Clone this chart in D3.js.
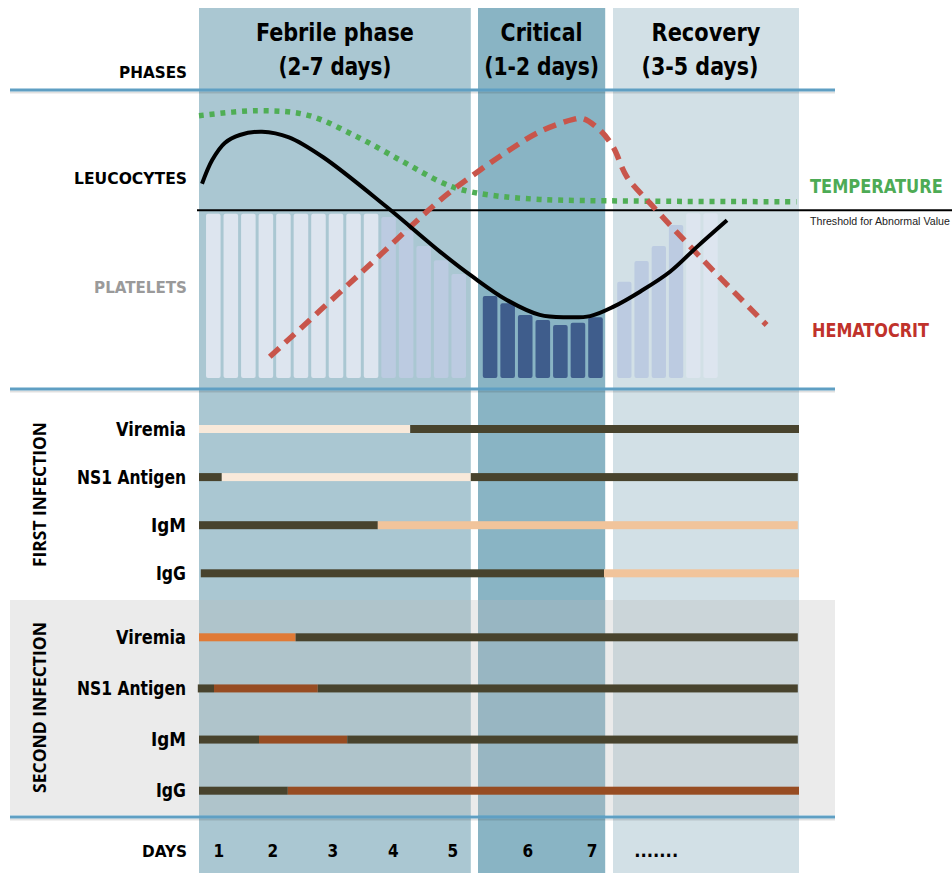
<!DOCTYPE html>
<html>
<head>
<meta charset="utf-8">
<style>
    body { margin: 0; background: #fff; }
    svg { display: block; }
    .lab { font-family: "Liberation Sans Narrow", "DejaVu Sans Condensed", "Open Sans", sans-serif; font-weight: bold; }
    .wide { font-family: "Open Sans", "DejaVu Sans", sans-serif; font-weight: bold; }
    .sep { stroke: #5f9fc3; stroke-width: 3px; }
    .sep-shadow { stroke: rgba(0,0,0,0.12); stroke-width: 2px; }
    path.leuco { fill: none; stroke: #000; stroke-width: 4px; }
    path.temp { fill: none; stroke: #4fae55; stroke-width: 5.5px; stroke-dasharray: 5,5.8; }
    path.hema { fill: none; stroke: #c8554b; stroke-width: 5.5px; stroke-dasharray: 13,8; }
</style>
</head>
<body>
<script src="https://cdn.jsdelivr.net/npm/d3@7"></script>
<script>
    // phases along the timeline (0..100 = whole course of the illness)
    var phaseNames = ['Febrile phase', 'Critical', 'Recovery'];
    var phaseDurations = ['(2-7 days)', '(1-2 days)', '(3-5 days)'];
    var phaseStart = [0, 46.5, 69];
    var phaseEnd = [45.3, 67.7, 100];

    // curves: [time, level]  (level 100 = threshold for abnormal value)
    var leucocytes = [[0.5, 117], [2.2, 131.3], [4.3, 141.6], [6.8, 146.4], [10.5, 148.4],
                      [15, 145], [20.7, 133], [31.3, 103], [40.2, 76], [45.6, 61],
                      [51.3, 47], [56.8, 38], [61.3, 36.6], [65.2, 37.3], [69.1, 43],
                      [73.5, 52], [78.5, 64], [83, 79], [88, 95]];
    var temperature = [[0, 158], [9.6, 161], [18, 158.4], [26.3, 145.4], [34, 130.3],
                       [40.2, 118.2], [43.5, 113.7], [48.5, 110.2], [56.8, 107.6],
                       [72.3, 106.6], [99.6, 106.2]];
    var hematocrit = [[11.8, 12.8], [26.3, 61], [40.2, 107.2], [45.7, 122.3], [51.3, 136.3],
                      [56.8, 148.4], [62.4, 155.8], [64, 156.3], [66.8, 149.4], [69, 139.3],
                      [71.3, 121.3], [75.2, 105.2], [84, 71.1], [94.6, 31.9]];
    var thresholdValue = 101;

    // platelet bars per phase
    var plateletFebrile = [99, 99, 99, 99, 99, 99, 99, 99, 99, 99, 97, 89, 79.5, 71, 62.7];
    var toneFebrile = ['n', 'n', 'n', 'n', 'n', 'n', 'n', 'n', 'n', 'n', 'm', 'm', 'm', 'm', 'm'];
    var plateletCritical = [49.4, 45, 38, 34.9, 31.9, 33.3, 36.6];
    var toneCritical = ['c', 'c', 'c', 'c', 'c', 'c', 'c'];
    var plateletRecovery = [58, 70.5, 79.5, 92.2, 99.2, 99.2];
    var toneRecovery = ['m', 'm', 'm', 'm', 'n', 'n'];

    // tests: segments [from, to, state]
    var testNames = ['Viremia', 'NS1 Antigen', 'IgM', 'IgG'];
    var firstInfection = [
        [[0, 35.2, 'pos'], [35.2, 100, 'neg']],
        [[0, 3.8, 'neg'], [3.8, 45.3, 'pos'], [45.3, 99.8, 'neg']],
        [[0, 29.8, 'neg'], [29.8, 99.8, 'ab']],
        [[0.3, 67.5, 'neg'], [67.5, 100, 'ab']]
    ];
    var secondInfection = [
        [[0, 16.1, 'pos'], [16.1, 99.8, 'neg']],
        [[-0.2, 2.5, 'neg'], [2.5, 19.8, 'ab'], [19.8, 99.8, 'neg']],
        [[0, 10, 'neg'], [10, 24.7, 'ab'], [24.7, 99.8, 'neg']],
        [[0, 14.8, 'neg'], [14.8, 100, 'ab']]
    ];

    var dayLabels = ['1', '2', '3', '4', '5', '6', '7', '.......'];
    var dayTimes = [3.3, 12.3, 22.3, 32.4, 42.3, 54.8, 65.5, 76.2];

    var phaseColor = ['#aac7d2', '#89b4c4', '#d2e0e6'];
    var toneColor = {n: '#dde5ef', m: '#bccbe1', c: '#3f5d8c'};
    var firstColor = {pos: '#f8e9da', neg: '#48432d', ab: '#f1c49b'};
    var secondColor = {pos: '#e07a36', neg: '#48432d', ab: '#974c22'};

    // measured text widths in the original drawing
    var textWidth = {
        'Febrile phase': 158, '(2-7 days)': 113, 'Critical': 82, '(1-2 days)': 115,
        'Recovery': 109, '(3-5 days)': 117,
        'PHASES': 68, 'LEUCOCYTES': 113, 'PLATELETS': 93, 'DAYS': 45,
        'Viremia': 70, 'NS1 Antigen': 109, 'IgM': 35, 'IgG': 30,
        'TEMPERATURE': 133, 'HEMATOCRIT': 117, 'Threshold for Abnormal Value': 140,
        'FIRST INFECTION': 145, 'SECOND INFECTION': 171, '.......': 44
    };
    // squeeze a text horizontally to its measured width
    function fit(sel) {
        sel.each(function() {
            var t = d3.select(this), w = textWidth[t.text()];
            if (!w) return;
            var sx = w / this.getComputedTextLength();
            var x0 = +t.attr('x') || 0, y0 = +t.attr('y') || 0;
            var tr = t.attr('transform') || '';
            t.attr('x', 0).attr('y', 0)
             .attr('transform', 'translate(' + x0 + ',' + y0 + ') ' + tr + ' scale(' + sx + ',1)');
        });
    }

    var W = 952, H = 873;
    var svg = d3.select('body').append('svg')
                .attr('width', W).attr('height', H);

    var x = d3.scaleLinear().domain([0, 100]).range([199, 799]);
    var yv = d3.scaleLinear().domain([0, 100]).range([378, 212]);

    // phase columns
    svg.selectAll('rect.phase')
       .data(phaseNames)
       .enter().append('rect')
       .attr('class', 'phase')
       .attr('x', (d, i) => x(phaseStart[i]))
       .attr('y', 8)
       .attr('width', (d, i) => x(phaseEnd[i]) - x(phaseStart[i]))
       .attr('height', H - 8)
       .attr('fill', (d, i) => phaseColor[i]);

    // grey panel behind second infection
    svg.append('rect')
       .attr('x', 10).attr('y', 600)
       .attr('width', 825).attr('height', 215)
       .attr('fill', '#bdbdbd').attr('opacity', 0.3);

    // platelets
    function barGroup(values, tones, t0, t1) {
        var b = d3.scaleBand().domain(d3.range(values.length))
                  .range([x(t0), x(t1)]).paddingInner(0.17);
        svg.append('g').selectAll('rect')
           .data(values)
           .enter().append('rect')
           .attr('x', (d, i) => b(i))
           .attr('width', b.bandwidth())
           .attr('y', d => yv(d))
           .attr('height', d => yv(0) - yv(d))
           .attr('rx', 2)
           .attr('fill', (d, i) => toneColor[tones[i]]);
    }
    barGroup(plateletFebrile, toneFebrile, 1.17, 44.5);
    barGroup(plateletCritical, toneCritical, 47.3, 67.3);
    barGroup(plateletRecovery, toneRecovery, 69.7, 86.45);

    // threshold
    svg.append('line')
       .attr('x1', 197).attr('x2', W)
       .attr('y1', yv(thresholdValue)).attr('y2', yv(thresholdValue))
       .attr('stroke', '#000').attr('stroke-width', 2);

    var line = d3.line()
                 .x(d => x(d[0]))
                 .y(d => yv(d[1]))
                 .curve(d3.curveCatmullRom.alpha(0.5));

    svg.append('path').datum(temperature).attr('class', 'temp').attr('d', line);
    svg.append('path').datum(hematocrit).attr('class', 'hema').attr('d', line);
    svg.append('path').datum(leucocytes).attr('class', 'leuco').attr('d', line);

    // separators
    [90, 389, 817].forEach(function(y) {
        svg.append('line').attr('class', 'sep-shadow')
           .attr('x1', 10).attr('x2', 835).attr('y1', y + 2.5).attr('y2', y + 2.5);
        svg.append('line').attr('class', 'sep')
           .attr('x1', 10).attr('x2', 835).attr('y1', y).attr('y2', y);
    });

    // infection rows
    function testBlock(rows, colors, y0, y1) {
        var y = d3.scalePoint().domain(testNames).range([y0, y1]);
        var g = svg.append('g');
        rows.forEach(function(segs, r) {
            g.selectAll(null)
             .data(segs)
             .enter().append('rect')
             .attr('x', d => x(d[0]))
             .attr('width', d => x(d[1]) - x(d[0]))
             .attr('y', y(testNames[r]) - 4)
             .attr('height', 8)
             .attr('fill', d => colors[d[2]]);
        });
        g.selectAll('text')
         .data(testNames)
         .enter().append('text')
         .attr('class', 'lab')
         .attr('x', 186)
         .attr('y', d => y(d))
         .attr('dy', '0.35em')
         .attr('text-anchor', 'end')
         .attr('font-size', 19)
         .text(d => d)
         .call(fit);
    }
    testBlock(firstInfection, firstColor, 429, 573.3);
    testBlock(secondInfection, secondColor, 637.3, 790.7);

    // phase titles
    var titles = svg.append('g').attr('class', 'lab').attr('font-size', 25)
                    .attr('text-anchor', 'middle');
    titles.selectAll('text.t1')
          .data(phaseNames)
          .enter().append('text')
          .attr('x', (d, i) => x((phaseStart[i] + phaseEnd[i]) / 2))
          .attr('y', 41)
          .text(d => d)
          .call(fit);
    titles.selectAll('text.t2')
          .data(phaseDurations)
          .enter().append('text')
          .attr('x', (d, i) => x((phaseStart[i] + phaseEnd[i]) / 2) - (i == 2 ? 6 : 0))
          .attr('y', 75)
          .text(d => d)
          .call(fit);

    // left labels
    function leftLabel(txt, y, color) {
        svg.append('text').attr('class', 'lab')
           .attr('x', 187).attr('y', y).attr('dy', '0.35em')
           .attr('text-anchor', 'end').attr('font-size', 16)
           .attr('fill', color || '#000')
           .text(txt)
           .call(fit);
    }
    leftLabel('PHASES', 72);
    leftLabel('LEUCOCYTES', 178);
    leftLabel('PLATELETS', 287, '#9a9a9a');
    leftLabel('DAYS', 851);

    // right labels
    svg.append('text').attr('class', 'lab')
       .attr('x', 810).attr('y', 192.5).attr('font-size', 20)
       .attr('fill', '#4dab55').text('TEMPERATURE').call(fit);
    svg.append('text').attr('class', 'lab')
       .attr('x', 812).attr('y', 337).attr('font-size', 20)
       .attr('fill', '#c0322b').text('HEMATOCRIT').call(fit);
    svg.append('text')
       .attr('x', 810).attr('y', 225)
       .attr('font-family', '"Liberation Sans", Arial, sans-serif')
       .attr('font-size', 10).attr('fill', '#222')
       .text('Threshold for Abnormal Value').call(fit);

    // rotated block titles
    [['FIRST INFECTION', 494.5], ['SECOND INFECTION', 707.5]].forEach(function(d) {
        svg.append('text').attr('class', 'wide')
           .attr('transform', 'translate(40,' + d[1] + ') rotate(-90)')
           .attr('text-anchor', 'middle').attr('dy', '0.35em')
           .attr('font-size', 17)
           .text(d[0]).call(fit);
    });

    // days
    svg.append('g').selectAll('text')
       .data(dayLabels)
       .enter().append('text')
       .attr('class', 'lab')
       .attr('x', (d, i) => x(dayTimes[i]))
       .attr('y', 851).attr('dy', '0.35em')
       .attr('text-anchor', 'middle')
       .attr('font-size', 17)
       .text(d => d)
       .call(fit);
</script>
</body>
</html>
